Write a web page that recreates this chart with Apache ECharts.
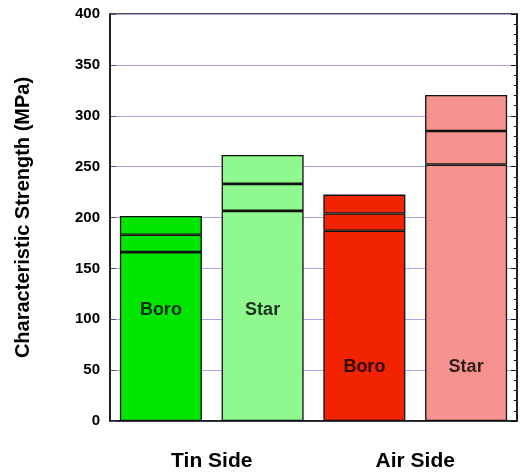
<!DOCTYPE html>
<html><head><meta charset="utf-8">
<script src="https://cdn.jsdelivr.net/npm/echarts@6/dist/echarts.min.js"></script>
<style>html,body{margin:0;padding:0;background:#fff}#c{width:521px;height:474px}</style>
</head><body><div id="c"></div>
<script>
const categories = ['Boro', 'Star', 'Boro', 'Star'];
const groups = ['Tin Side', 'Air Side'];
const lowLine = [166, 206.5, 187, 252];
const midLine = [183, 233, 204, 285];
const topValue = [201.5, 261.5, 222.5, 320.5];
const labelPos = [109, 109, 53, 53];
const barColors = ['#00e600', '#8ff98f', '#f22400', '#f6938f'];
const yTicks = [0, 50, 100, 150, 200, 250, 300, 350, 400];

const font = 'Liberation Sans, Arial, Helvetica, sans-serif';
const seg1 = lowLine;
const seg2 = midLine.map((v, i) => v - lowLine[i]);
const seg3 = topValue.map((v, i) => v - midLine[i]);
function mk(arr) {
  return arr.map((v, i) => ({ value: v, itemStyle: { color: barColors[i] } }));
}
const barStyle = { borderColor: '#111', borderWidth: 1.3 };

const chart = echarts.init(document.getElementById('c'), null, { renderer: 'canvas' });
chart.setOption({
  animation: false,
  grid: { left: 110, right: 4, top: 14, bottom: 53, outerBoundsMode: 'none', containLabel: false,
    show: true, borderColor: '#111', borderWidth: 1.5, backgroundColor: 'transparent' },
  xAxis: [
    { type: 'category', data: [0, 1, 2, 3], axisLine: { show: true, lineStyle: { color: '#111', width: 1.5 } },
      axisTick: { show: false }, axisLabel: { show: false } },
    { type: 'category', data: groups, position: 'bottom', offset: 0,
      axisLine: { show: false }, axisTick: { show: false },
      axisLabel: { show: true, margin: 30, fontFamily: font, fontWeight: 'bold', fontSize: 21, color: '#000' } }
  ],
  yAxis: [
    { type: 'value', min: 0, max: 400, interval: 50,
      name: 'Characteristic Strength (MPa)', nameLocation: 'middle', nameGap: 77,
      nameTextStyle: { fontFamily: font, fontWeight: 'bold', fontSize: 20, color: '#000' },
      axisLine: { show: true, lineStyle: { color: '#111', width: 1.5 } },
      axisTick: { show: true, inside: true, length: 6, lineStyle: { color: '#555577', width: 1 } },
      axisLabel: { margin: 10, fontFamily: font, fontWeight: 'bold', fontSize: 15, color: '#000',
        formatter: v => yTicks.includes(v) ? String(v) : '' },
      splitLine: { show: true, lineStyle: { color: '#a8a8f0', width: 1.2 } } },
    { type: 'value', min: 0, max: 400, interval: 50, position: 'right',
      axisLine: { show: true, lineStyle: { color: '#111', width: 1.5 } },
      axisTick: { show: true, inside: true, length: 6, lineStyle: { color: '#111', width: 1 } },
      minorTick: { show: true, splitNumber: 5, length: 3, lineStyle: { color: '#111', width: 1 } },
      axisLabel: { show: false }, splitLine: { show: false } }
  ],
  series: [
    { type: 'bar', stack: 's', barWidth: 82, data: mk(seg1), itemStyle: barStyle },
    { type: 'bar', stack: 's', barWidth: 82, data: mk(seg2), itemStyle: barStyle },
    { type: 'bar', stack: 's', barWidth: 82, data: mk(seg3), itemStyle: barStyle },
    { type: 'scatter', symbolSize: 0, z: 10,
      data: labelPos.map((v, i) => [i, v]),
      label: { show: true, position: 'inside', formatter: p => categories[p.dataIndex],
        fontFamily: font, fontWeight: 'bold', fontSize: 18, color: '#000' } }
  ]
});
</script></body></html>
